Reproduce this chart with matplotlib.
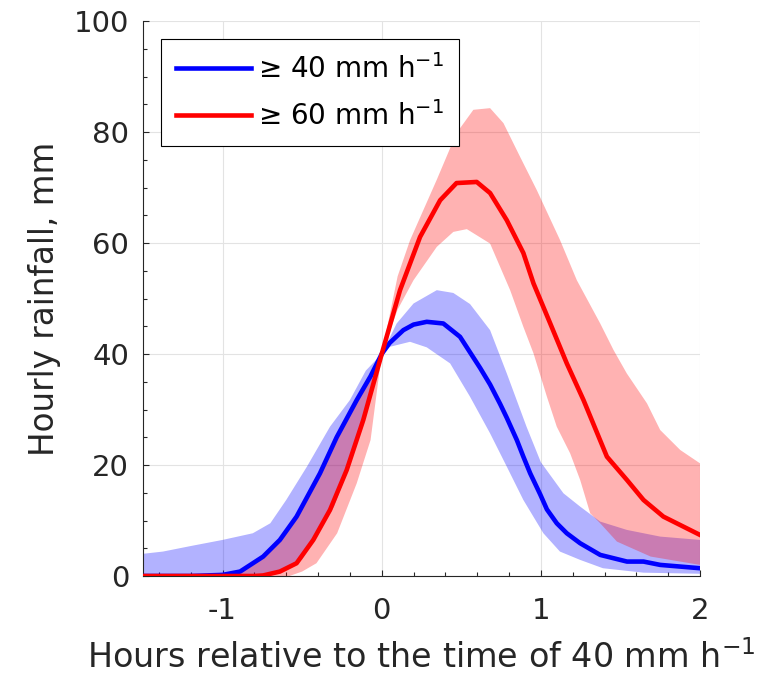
import matplotlib
matplotlib.use("Agg")
import matplotlib.pyplot as plt
from matplotlib.ticker import MultipleLocator

plt.rcParams['font.family'] = ['DejaVu Sans']
plt.rcParams['axes.unicode_minus'] = False

# values
# >= 40 mm/h : mean line
b_x = [-1.5, -1.2, -1.0, -0.89, -0.745, -0.64, -0.535, -0.388, -0.283, -0.157, -0.07, 0.0,
       0.05, 0.136, 0.2, 0.283, 0.387, 0.492, 0.618, 0.681, 0.744, 0.786, 0.849, 0.89,
       0.933, 0.996, 1.038, 1.1, 1.163, 1.247, 1.373, 1.541, 1.645, 1.75, 2.0]
b_y = [0, 0, 0.2, 0.8, 3.5, 6.5, 10.7, 18.5, 25, 31.7, 36, 40,
       42, 44.3, 45.3, 45.8, 45.5, 43.1, 37.5, 34.5, 31, 28.5, 24.5, 21.5,
       18.5, 14.7, 12, 9.5, 7.7, 5.9, 3.8, 2.6, 2.6, 2.0, 1.4]
# >= 40 mm/h : band
bu_x = [-1.5, -1.375, -1.2, -1.0, -0.81, -0.70, -0.60, -0.47, -0.325, -0.2, -0.1, 0.0,
        0.094, 0.2, 0.346, 0.45, 0.555, 0.681, 0.786, 0.91, 1.0, 1.142, 1.247, 1.373,
        1.541, 1.75, 2.0]
bu_y = [4.0, 4.4, 5.4, 6.5, 7.7, 9.5, 13.7, 19.7, 26.9, 31.7, 37, 40,
        45.5, 49.1, 51.5, 51, 49, 44.3, 36.5, 26.9, 20.5, 14.9, 12.5, 9.8,
        8.3, 7.1, 6.5]
bl_x = [-1.5, -0.9, -0.7, -0.6, -0.5, -0.4, -0.3, -0.2, -0.1, 0.0, 0.052, 0.178, 0.283,
        0.43, 0.555, 0.681, 0.786, 0.89, 1.016, 1.12, 1.247, 1.39, 1.645, 2.0]
bl_y = [0, 0, 0.2, 1.2, 3.0, 7.5, 12.5, 20, 30, 40, 41.3, 42.2, 41.2,
        38.3, 32.3, 25.7, 19.7, 13.7, 7.7, 4.4, 2.9, 1.4, 0.6, 0.4]

# >= 60 mm/h : mean line
r_x = [-1.5, -0.8, -0.745, -0.64, -0.535, -0.43, -0.325, -0.22, -0.116, 0.0, 0.115, 0.241,
       0.367, 0.47, 0.597, 0.681, 0.786, 0.89, 0.954, 1.059, 1.163, 1.268, 1.415, 1.541,
       1.645, 1.77, 2.0]
r_y = [0, 0, 0.1, 0.8, 2.3, 6.5, 11.9, 19.1, 28.1, 40, 51.5, 61.1,
       67.7, 70.8, 71.0, 69, 64.1, 58.2, 52.7, 45.5, 38.3, 31.7, 21.5, 17.3,
       13.7, 10.7, 7.4]
# >= 60 mm/h : band
ru_x = [-1.5, -1.0, -0.89, -0.745, -0.64, -0.535, -0.388, -0.283, -0.157, 0.0, 0.1, 0.178,
        0.346, 0.47, 0.576, 0.681, 0.765, 0.87, 0.975, 1.121, 1.226, 1.373, 1.457, 1.54,
        1.667, 1.75, 1.876, 2.0]
ru_y = [0.3, 0.3, 0.8, 3.5, 6.5, 10.5, 18, 24.5, 31.5, 40, 54, 60.5,
        71.4, 79.8, 84, 84.3, 81.6, 75.5, 69.5, 60.5, 53.3, 45.5, 40.7, 36.5,
        31.1, 26.3, 22.7, 20.3]
rl_x = [-1.5, -0.58, -0.5, -0.41, -0.28, -0.157, -0.07, 0.0, 0.1, 0.2, 0.346, 0.45, 0.535,
        0.681, 0.807, 0.89, 0.954, 1.038, 1.1, 1.184, 1.247, 1.31, 1.373, 1.478, 1.69, 2.0]
rl_y = [0, 0, 0.8, 2.3, 7.7, 16.7, 24.5, 40, 48, 53.3, 59.3, 62, 62.5,
        59.9, 51.5, 44.9, 40.1, 32.3, 26.9, 22.1, 17.3, 11.3, 9.5, 6.2, 3.5, 2.0]

labels = ['\u2265 40 mm h$^{-1}$', '\u2265 60 mm h$^{-1}$']
ink = '#262626'

fig = plt.figure(figsize=(7.69, 6.92), dpi=100)
ax = fig.add_axes([143/769, 116/692, 557/769, 555/692])

# shaded ranges
ax.fill(bu_x + bl_x[::-1], bu_y + bl_y[::-1], color=(0, 0, 1), alpha=0.3, lw=0, zorder=2)
ax.fill(ru_x + rl_x[::-1], ru_y + rl_y[::-1], color=(1, 0, 0), alpha=0.3, lw=0, zorder=2)

ax.plot(b_x, b_y, color=(0, 0, 1), lw=3.3, label=labels[0], zorder=3)
ax.plot(r_x, r_y, color=(1, 0, 0), lw=3.3, label=labels[1], zorder=4)

ax.set_xlim(-1.5, 2)
ax.set_ylim(0, 100)
ax.set_xticks([-1, 0, 1, 2])
ax.set_yticks([0, 20, 40, 60, 80, 100])
ax.xaxis.set_minor_locator(MultipleLocator(0.2))
ax.yaxis.set_minor_locator(MultipleLocator(5))
ax.tick_params(which='both', direction='in', colors=ink, labelsize=21)
ax.tick_params(which='major', length=4.5, width=0.8)
ax.tick_params(which='minor', length=3, width=0.8)
ax.tick_params(axis='x', pad=15)
ax.tick_params(axis='y', pad=10)
ax.grid(True, which='major', color='#e3e3e3', lw=0.8, zorder=0)
ax.set_axisbelow(True)
for s in ['top', 'right']:
    ax.spines[s].set_visible(False)
for s in ['left', 'bottom']:
    ax.spines[s].set_color(ink)
    ax.spines[s].set_linewidth(0.8)

ax.set_xlabel('Hours relative to the time of 40 mm h$^{-1}$', fontsize=24, color=ink, labelpad=11)
ax.set_ylabel('Hourly rainfall, mm', fontsize=23.5, color=ink, labelpad=9)

leg = ax.legend(loc='upper left', bbox_to_anchor=(18/557, 1 - 18/555), borderaxespad=0,
                fontsize=20, fancybox=False, framealpha=1, edgecolor='black',
                handlelength=2.7, handletextpad=0.25, borderpad=0.55, labelspacing=0.6)
leg.get_frame().set_linewidth(0.8)

fig.savefig('out.png', dpi=100)
